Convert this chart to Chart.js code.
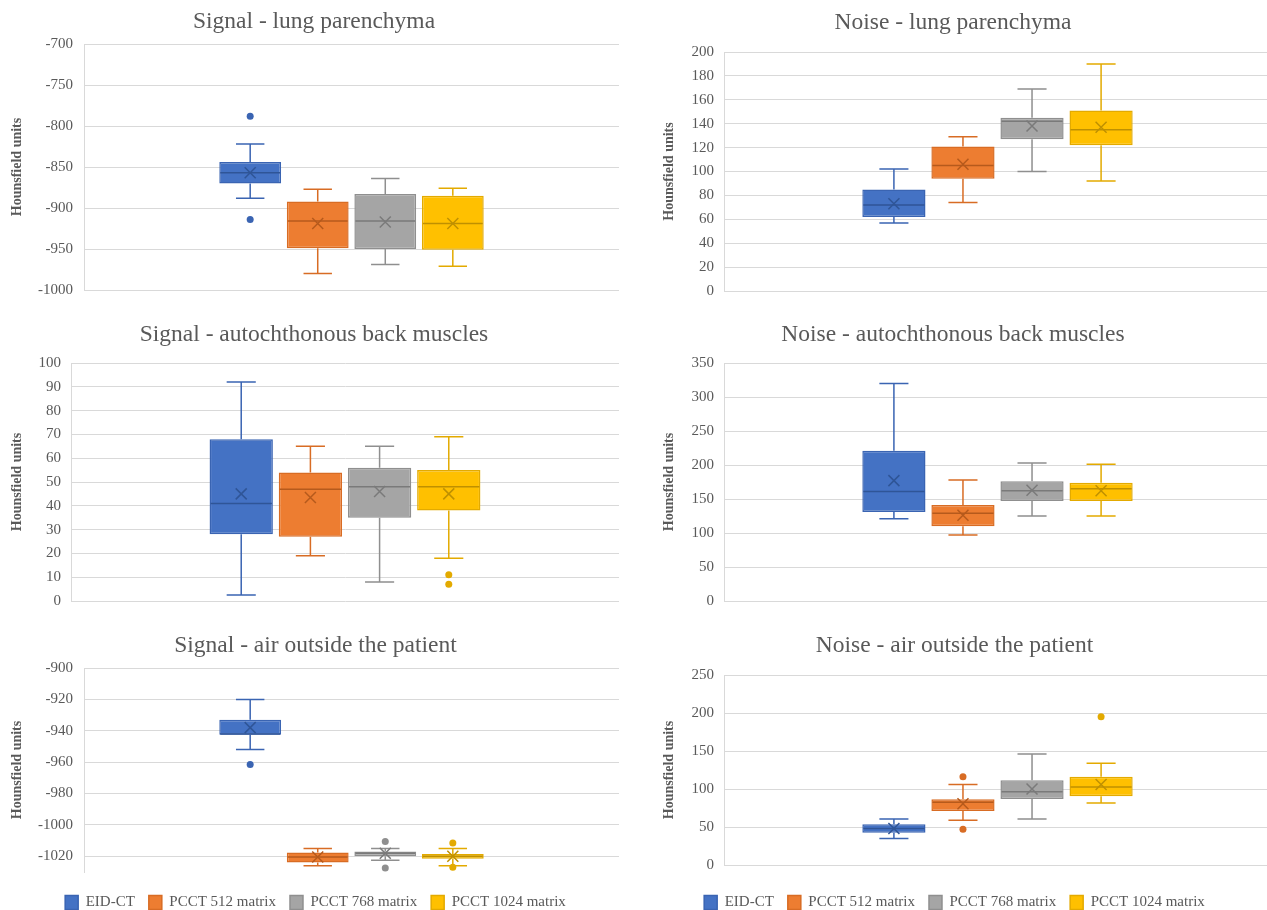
<!DOCTYPE html>
<html><head><meta charset="utf-8">
<script src="https://cdn.jsdelivr.net/npm/chart.js@4.4.1/dist/chart.umd.min.js"></script>
<style>
html,body{margin:0;padding:0;background:#fff;width:1267px;height:910px;overflow:hidden;position:relative}
canvas{position:absolute}
</style></head><body>
<script>
// ---------------- DATA ----------------
const seriesNames = ['EID-CT', 'PCCT 512 matrix', 'PCCT 768 matrix', 'PCCT 1024 matrix'];
const panelTitles = ['Signal - lung parenchyma', 'Noise - lung parenchyma',
  'Signal - autochthonous back muscles', 'Noise - autochthonous back muscles',
  'Signal - air outside the patient', 'Noise - air outside the patient'];
const yAxisLabel = 'Hounsfield units';

// five-number summaries per series: [lower whisker, Q1, median, Q3, upper whisker]
const sigLungBox = [[-888, -870, -857, -844, -822], [-980, -949, -916, -892, -877], [-969, -950, -916, -883, -864], [-971, -951, -919, -885, -876]];
const sigLungMean = [-857, -919, -917, -919];
const sigLungOut = [[-788, -914], [], [], []];
const sigLungTicks = [-1000, -950, -900, -850, -800, -750, -700];
const sigLungRange = [-1000, -700];

const noiseLungBox = [[57, 62, 72, 85, 102], [74, 94, 105, 121, 129], [100, 127, 142, 145, 169], [92, 122, 135, 151, 190]];
const noiseLungMean = [73, 106, 138, 137];
const noiseLungOut = [[], [], [], []];
const noiseLungTicks = [0, 20, 40, 60, 80, 100, 120, 140, 160, 180, 200];
const noiseLungRange = [0, 200];

const sigMuscleBox = [[2.5, 28, 41, 68, 92], [19, 27, 47, 54, 65], [8, 35, 48, 56, 65], [18, 38, 48, 55, 69]];
const sigMuscleMean = [45, 43.5, 46, 45];
const sigMuscleOut = [[], [], [], [11, 7]];
const sigMuscleTicks = [0, 10, 20, 30, 40, 50, 60, 70, 80, 90, 100];
const sigMuscleRange = [0, 100];

const noiseMuscleBox = [[121, 131, 161, 221, 320], [97, 110, 129, 141, 178], [125, 147, 162, 176, 203], [125, 147, 165, 174, 201]];
const noiseMuscleMean = [177, 126, 163, 162];
const noiseMuscleOut = [[], [], [], []];
const noiseMuscleTicks = [0, 50, 100, 150, 200, 250, 300, 350];
const noiseMuscleRange = [0, 350];

const sigAirBox = [[-952, -942.5, -942, -933, -920], [-1026, -1024, -1020.5, -1017.5, -1015], [-1022.5, -1020, -1018, -1017, -1015], [-1026, -1021.5, -1020, -1018.5, -1015]];
const sigAirMean = [-938, -1020.5, -1018, -1020];
const sigAirOut = [[-961.5], [], [-1010.5, -1027.5], [-1011.5, -1027]];
const sigAirTicks = [-1020, -1000, -980, -960, -940, -920, -900];
const sigAirRange = [-1030, -900];

const noiseAirBox = [[35, 42.5, 48, 53.5, 60.5], [59, 71, 82.5, 86.5, 106], [60.5, 87, 96.5, 111.5, 146], [81.5, 90.5, 102.5, 116, 134]];
const noiseAirMean = [48, 80.5, 100, 106];
const noiseAirOut = [[], [116, 47], [], [195]];
const noiseAirTicks = [0, 50, 100, 150, 200, 250];
const noiseAirRange = [0, 250];

// ---------------- STYLE ----------------
const SERIF = "'Liberation Serif', 'Times New Roman', serif";
const TEXT = '#595959';
const seriesFill = ['#4472C4', '#ED7D31', '#A5A5A5', '#FFC000'];
const seriesEdge = ['#3A64B2', '#D86C24', '#8F8F8F', '#E3AA00'];
const seriesDark = ['#2F5597', '#B65A1C', '#7A7A7A', '#BF9000'];

const boxPlugin = {
  id: 'boxExtras',
  afterDatasetsDraw(chart) {
    const ctx = chart.ctx, ys = chart.scales.y;
    const Y = v => ys.getPixelForValue(v);
    chart.data.datasets.forEach((ds, i) => {
      const bar = chart.getDatasetMeta(i).data[0];
      const x = bar.x, w = bar.width;
      const [mn, q1, md, q3, mx] = ds.stats;
      const cap = w * 0.23;
      ctx.save();
      ctx.lineWidth = 1.5;
      ctx.strokeStyle = ds.edge;
      ctx.beginPath();
      ctx.moveTo(x, Y(q3)); ctx.lineTo(x, Y(mx));
      ctx.moveTo(x - cap, Y(mx)); ctx.lineTo(x + cap, Y(mx));
      ctx.moveTo(x, Y(q1)); ctx.lineTo(x, Y(mn));
      ctx.moveTo(x - cap, Y(mn)); ctx.lineTo(x + cap, Y(mn));
      ctx.stroke();
      ctx.strokeStyle = ds.dark;
      ctx.beginPath();
      ctx.moveTo(x - w / 2 + 1, Y(md)); ctx.lineTo(x + w / 2 - 1, Y(md));
      ctx.stroke();
      const s = 5.5, ym = Y(ds.mean);
      ctx.beginPath();
      ctx.moveTo(x - s, ym - s); ctx.lineTo(x + s, ym + s);
      ctx.moveTo(x - s, ym + s); ctx.lineTo(x + s, ym - s);
      ctx.stroke();
      ctx.fillStyle = ds.edge;
      ds.outliers.forEach(v => { ctx.beginPath(); ctx.arc(x, Y(v), 3.5, 0, Math.PI * 2); ctx.fill(); });
      ctx.restore();
    });
  }
};

const panels = [
  {title: panelTitles[0], box: sigLungBox, mean: sigLungMean, out: sigLungOut, ticks: sigLungTicks, range: sigLungRange, legend: false,
   g: {cx: 0, cy: 0, cw: 640, ch: 310, L: 84, T: 44, R: 619, B: 298, titleY: 22, yTitleX: 17, tickGap: 11, padL: 9}},
  {title: panelTitles[1], box: noiseLungBox, mean: noiseLungMean, out: noiseLungOut, ticks: noiseLungTicks, range: noiseLungRange, legend: false,
   g: {cx: 630, cy: 0, cw: 660, ch: 310, L: 724, T: 52, R: 1271, B: 292, titleY: 23, yTitleX: 669, tickGap: 10, padL: 5}},
  {title: panelTitles[2], box: sigMuscleBox, mean: sigMuscleMean, out: sigMuscleOut, ticks: sigMuscleTicks, range: sigMuscleRange, legend: false,
   g: {cx: 0, cy: 310, cw: 640, ch: 310, L: 71, T: 363, R: 619, B: 603, titleY: 335, yTitleX: 17, tickGap: 10, padL: 9}},
  {title: panelTitles[3], box: noiseMuscleBox, mean: noiseMuscleMean, out: noiseMuscleOut, ticks: noiseMuscleTicks, range: noiseMuscleRange, legend: false,
   g: {cx: 630, cy: 310, cw: 660, ch: 310, L: 724, T: 363, R: 1271, B: 603, titleY: 335, yTitleX: 669, tickGap: 10, padL: 5}},
  {title: panelTitles[4], box: sigAirBox, mean: sigAirMean, out: sigAirOut, ticks: sigAirTicks, range: sigAirRange, legend: true,
   g: {cx: 0, cy: 620, cw: 640, ch: 300, L: 84, T: 668, R: 619, B: 872, titleY: 646, yTitleX: 17, tickGap: 11, padL: 12}},
  {title: panelTitles[5], box: noiseAirBox, mean: noiseAirMean, out: noiseAirOut, ticks: noiseAirTicks, range: noiseAirRange, legend: true,
   g: {cx: 630, cy: 620, cw: 660, ch: 300, L: 724, T: 675, R: 1271, B: 865, titleY: 646, yTitleX: 669, tickGap: 10, padL: 8}}
];

const TITLE_FS = 23.5, YT_FS = 14;

function build(p) {
  const g = p.g;
  const cv = document.createElement('canvas');
  cv.width = g.cw; cv.height = g.ch;
  cv.style.left = g.cx + 'px'; cv.style.top = g.cy + 'px';
  cv.style.width = g.cw + 'px'; cv.style.height = g.ch + 'px';
  document.body.appendChild(cv);
  const lh = TITLE_FS * 1.2, ylh = YT_FS * 1.2;
  const padR = g.cx + g.cw - g.R;
  const tPadTop = g.titleY - g.cy - lh / 2;
  const state = {tPadBottom: g.T - g.cy - lh - tPadTop, gap: 10};
  const datasets = seriesNames.map((n, i) => ({
    label: n,
    data: [[p.box[i][1], p.box[i][3]]],
    stats: p.box[i], mean: p.mean[i], outliers: p.out[i],
    edge: seriesEdge[i], dark: seriesDark[i],
    backgroundColor: seriesFill[i], borderColor: seriesEdge[i], borderWidth: 1.5, borderSkipped: false,
    categoryPercentage: 0.505, barPercentage: 0.915
  }));
  const opts = {
    responsive: false, animation: false, events: [],
    layout: {padding: {left: g.padL, right: padR, top: 0, bottom: 0}},
    plugins: {
      title: {display: true, text: p.title, color: TEXT,
        font: {family: SERIF, size: TITLE_FS, weight: 'normal', lineHeight: 1.2},
        padding: {top: tPadTop, bottom: state.tPadBottom}},
      legend: p.legend ? {display: true, position: 'bottom',
        labels: {boxWidth: 13, boxHeight: 14, padding: 14, color: TEXT, font: {family: SERIF, size: 15}}}
        : {display: false},
      tooltip: {enabled: false}
    },
    scales: {
      x: {display: true, grid: {display: false}, border: {display: false}, ticks: {display: false},
        afterFit: s => { s.height = state.gap; }},
      y: {min: p.range[0], max: p.range[1],
        afterBuildTicks: s => { s.ticks = p.ticks.map(v => ({value: v})); },
        afterFit: s => { s.width = g.L - g.cx - g.padL; },
        grid: {color: '#D9D9D9', drawTicks: false, lineWidth: 1},
        border: {display: true, color: '#D9D9D9', width: 1},
        ticks: {padding: g.tickGap, color: TEXT, font: {family: SERIF, size: 15}, callback: v => String(v)},
        title: {display: true, text: yAxisLabel, color: TEXT,
          font: {family: SERIF, size: YT_FS, weight: 'bold', lineHeight: 1.2},
          padding: {top: g.yTitleX - g.cx - g.padL - ylh / 2, bottom: 0}}}
    }
  };
  const chart = new Chart(cv, {type: 'bar', data: {labels: [''], datasets}, options: opts, plugins: [boxPlugin]});
  for (let k = 0; k < 2; k++) {
    const ca = chart.chartArea;
    const dT = (g.T - g.cy) - ca.top;
    const dB = ca.bottom - (g.B - g.cy);
    state.tPadBottom += dT;
    state.gap += dB;
    chart.options.plugins.title.padding = {top: tPadTop, bottom: state.tPadBottom};
    chart.update();
  }
  return chart;
}
panels.forEach(build);
</script>
</body></html>
